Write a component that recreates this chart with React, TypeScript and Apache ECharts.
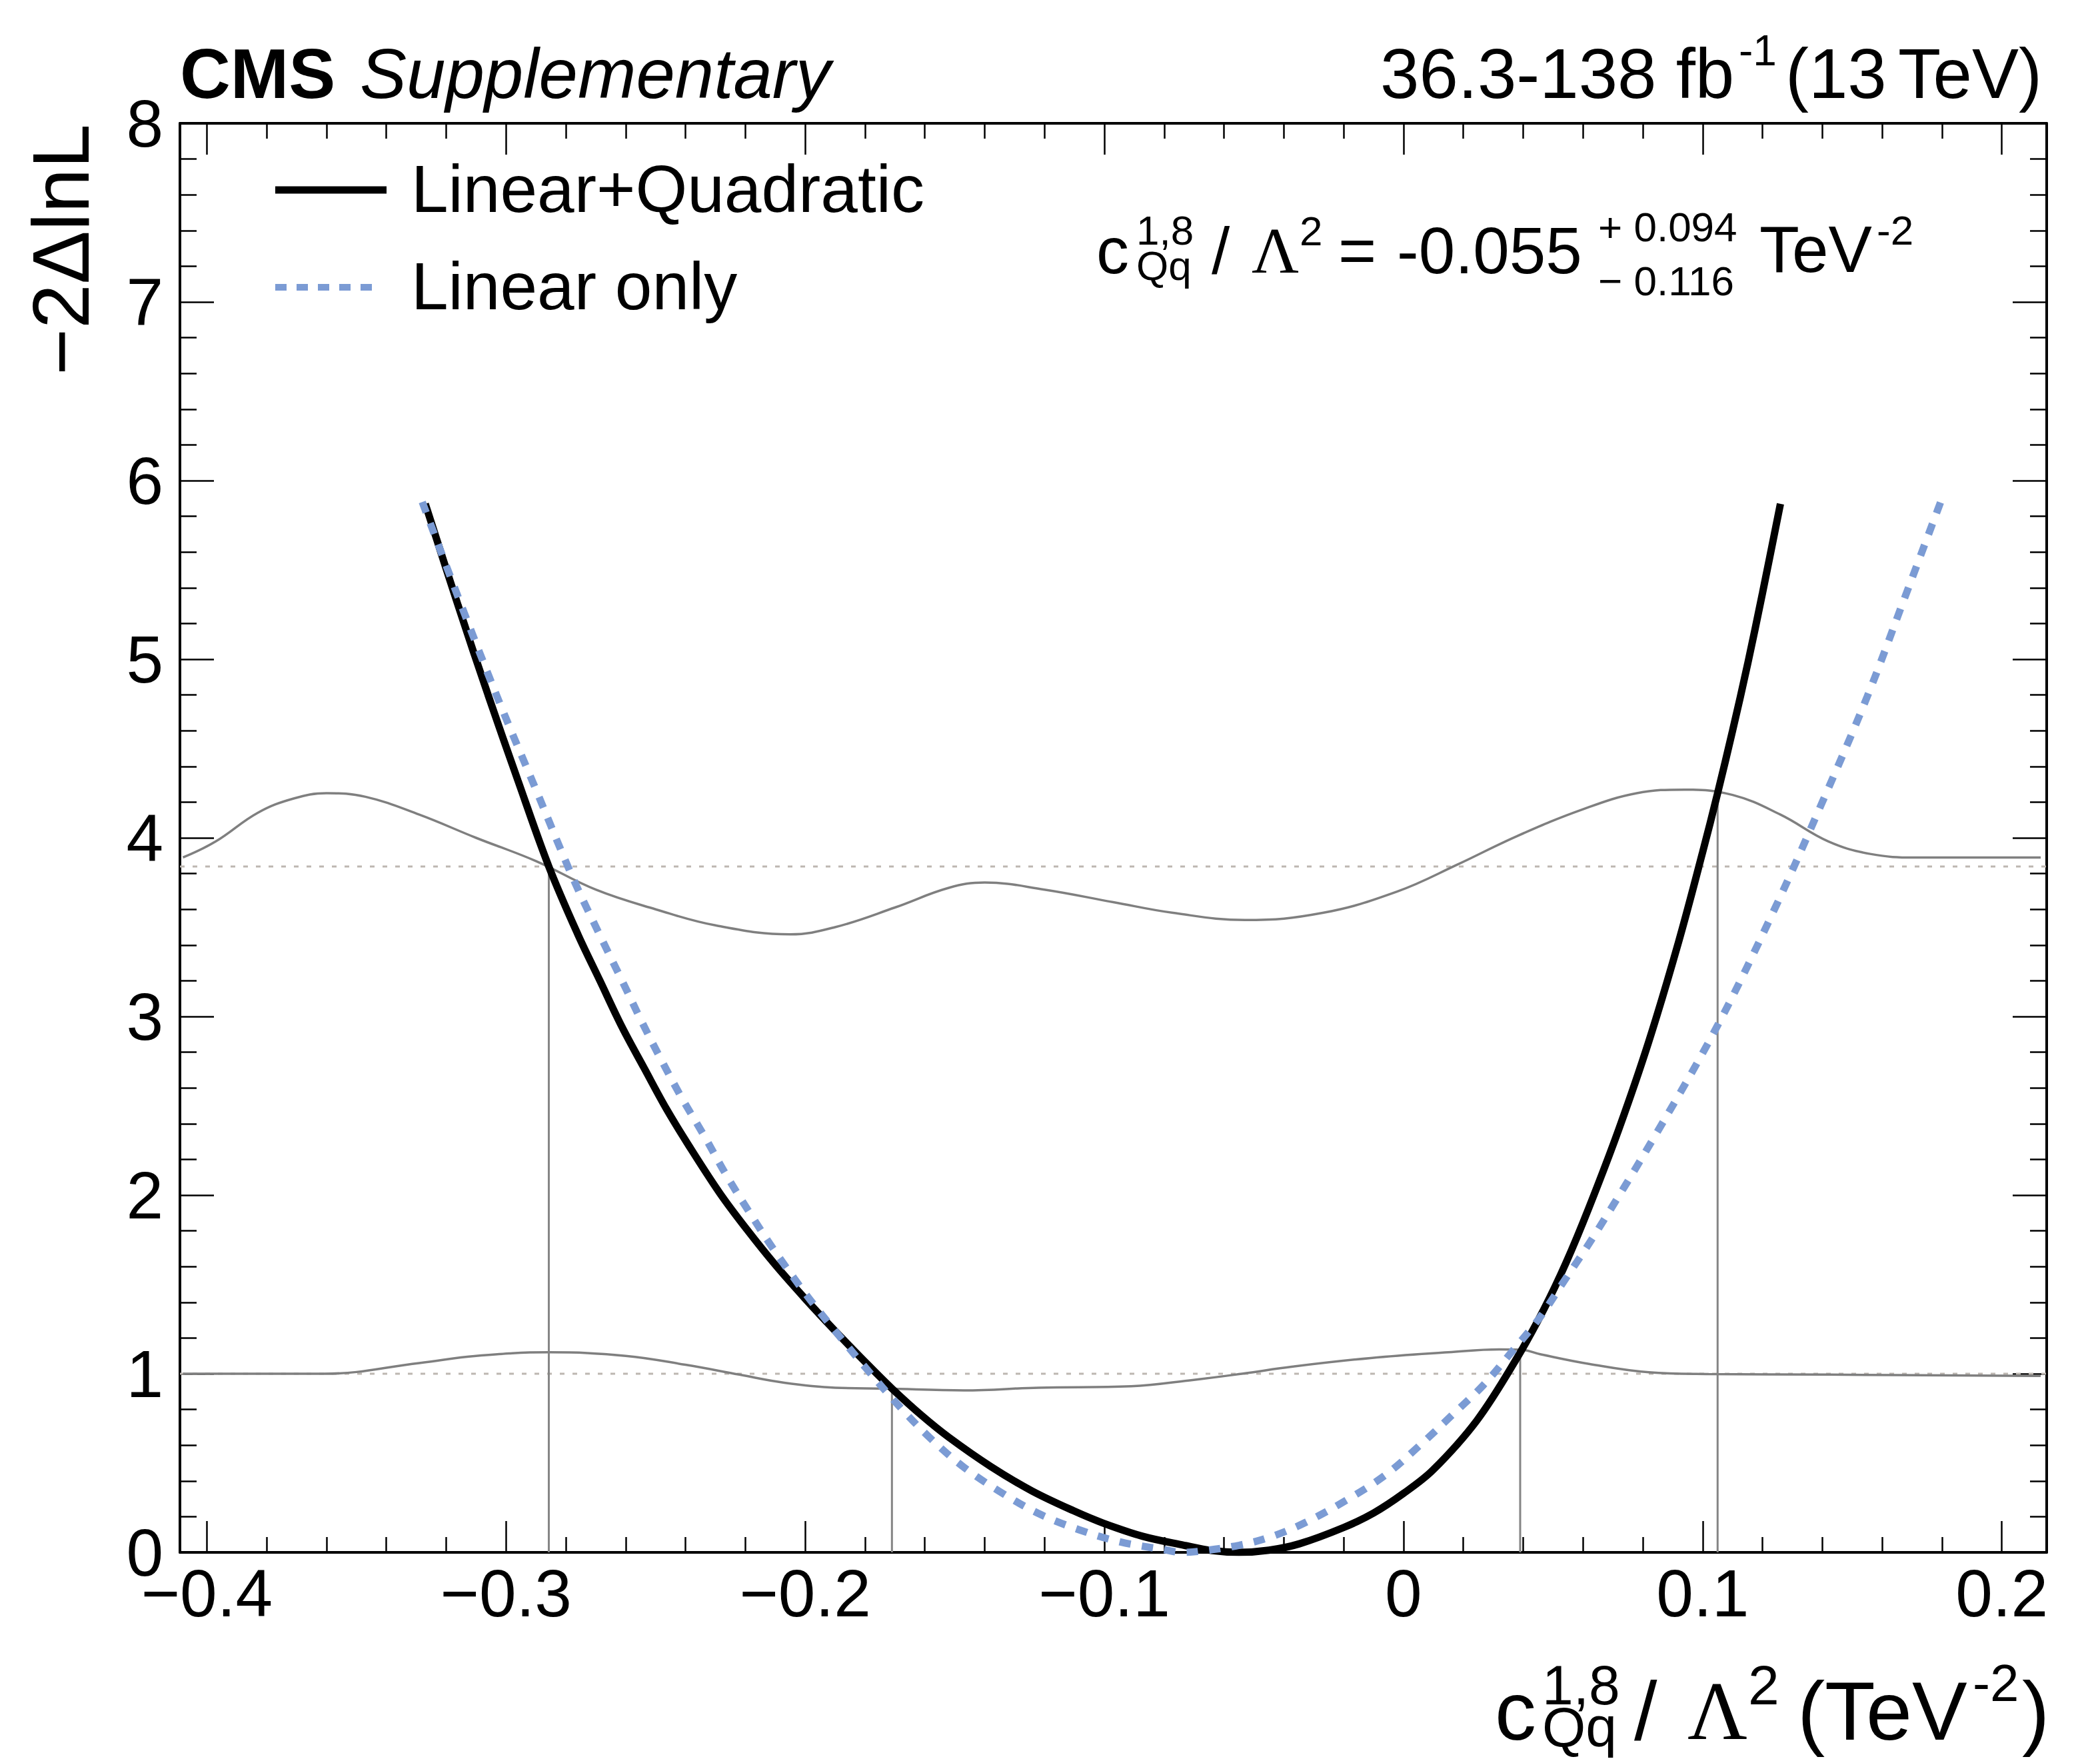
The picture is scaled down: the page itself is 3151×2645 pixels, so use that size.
import React, { useEffect, useRef } from "react";
import * as echarts from "echarts";

const W = 3151;
const H = 2645;

// axis ranges
const xMin = -0.409;
const xMax = 0.215;
const yMin = 0;
const yMax = 8;

// Linear+Quadratic (black solid)
const linQuadX = [-0.327, -0.316, -0.306, -0.296, -0.2857, -0.276, -0.2686, -0.2612, -0.2538, -0.2463, -0.239, -0.2285, -0.2196, -0.21, -0.2, -0.19, -0.1796, -0.171, -0.1611, -0.1519, -0.138, -0.1242, -0.1103, -0.1004, -0.0872, -0.0734, -0.064, -0.055, -0.045, -0.0348, -0.0199, -0.01, 0.0, 0.0098, 0.0246, 0.038, 0.0469, 0.0543, 0.062, 0.072, 0.082, 0.092, 0.1, 0.105, 0.11, 0.115, 0.12, 0.126];
const linQuadY = [5.87, 5.3, 4.8, 4.32, 3.84, 3.46, 3.2, 2.94, 2.71, 2.48, 2.28, 2.01, 1.81, 1.61, 1.42, 1.24, 1.06, 0.917, 0.767, 0.643, 0.481, 0.344, 0.233, 0.164, 0.09, 0.04, 0.01, 0.0, 0.012, 0.048, 0.14, 0.22, 0.33, 0.46, 0.74, 1.09, 1.36, 1.62, 1.93, 2.37, 2.86, 3.42, 3.92, 4.25, 4.6, 4.97, 5.37, 5.87];

// Linear only (blue dashed)
const linOnlyX = [-0.328, -0.314, -0.302, -0.29, -0.2775, -0.2679, -0.2612, -0.2549, -0.2482, -0.2411, -0.2337, -0.2263, -0.2185, -0.2107, -0.2, -0.19, -0.1796, -0.1685, -0.1584, -0.1473, -0.1353, -0.1223, -0.1085, -0.0946, -0.0799, -0.074, -0.0688, -0.0549, -0.0438, -0.0326, -0.0185, -0.0058, 0.0057, 0.0164, 0.0268, 0.0365, 0.0454, 0.0536, 0.064, 0.084, 0.105, 0.124, 0.14, 0.155, 0.167, 0.18];
const linOnlyY = [5.88, 5.26, 4.75, 4.27, 3.77, 3.43, 3.2, 2.98, 2.76, 2.54, 2.33, 2.11, 1.9, 1.7, 1.45, 1.24, 1.03, 0.817, 0.643, 0.481, 0.344, 0.22, 0.127, 0.058, 0.015, 0.0, 0.005, 0.04, 0.09, 0.169, 0.298, 0.436, 0.603, 0.771, 0.938, 1.129, 1.311, 1.517, 1.78, 2.33, 2.95, 3.6, 4.2, 4.79, 5.32, 5.9];

// grey threshold curves
const upperThrX = [-0.408, -0.397, -0.383, -0.371, -0.36, -0.347, -0.329, -0.31, -0.29, -0.27, -0.25, -0.23, -0.205, -0.19, -0.17, -0.152, -0.14, -0.12, -0.097, -0.077, -0.053, -0.027, -0.002, 0.018, 0.038, 0.06, 0.078, 0.094, 0.11, 0.126, 0.142, 0.156, 0.171, 0.191, 0.213];
const upperThrY = [3.89, 3.98, 4.14, 4.22, 4.25, 4.23, 4.13, 4.0, 3.87, 3.71, 3.6, 3.51, 3.46, 3.5, 3.61, 3.72, 3.75, 3.71, 3.64, 3.58, 3.54, 3.58, 3.7, 3.85, 4.01, 4.16, 4.25, 4.27, 4.24, 4.13, 3.98, 3.91, 3.89, 3.89, 3.89];
const lowerThrX = [-0.408, -0.361, -0.329, -0.31, -0.2857, -0.26, -0.24, -0.222, -0.207, -0.19, -0.173, -0.147, -0.122, -0.091, -0.071, -0.054, -0.037, -0.011, 0.015, 0.032, 0.039, 0.046, 0.062, 0.082, 0.102, 0.142, 0.213];
const lowerThrY = [1.0, 1.0, 1.06, 1.1, 1.12, 1.1, 1.05, 0.995, 0.95, 0.922, 0.917, 0.907, 0.922, 0.93, 0.964, 1.0, 1.04, 1.088, 1.12, 1.136, 1.135, 1.108, 1.055, 1.008, 0.998, 0.995, 0.988];

// interval edges (vertical grey lines) and their heights
const intervalEdges = [-0.2857, -0.171, 0.039, 0.105];
const intervalHeights = [3.84, 0.917, 1.135, 4.25];

// reference levels (dotted)
const refLevels = [1.0, 3.84];

const legendLabels = ["Linear+Quadratic", "Linear only"];

const SANS = '"Liberation Sans", Arial, Helvetica, sans-serif';
const SERIF = '"Liberation Serif", "Times New Roman", serif';
const BLUE = "#7b9bd4";
const GREY = "#7f7f7f";

const GRID = { left: 270, top: 185, right: 3071, bottom: 2329 };

const pairs = (xs: number[], ys: number[]) => xs.map((x, i) => [x, ys[i]]);

function T(
  text: string,
  x: number,
  baseline: number,
  size: number,
  opt: { weight?: string; style?: string; family?: string; align?: string } = {}
) {
  return {
    type: "text",
    x,
    y: baseline - 0.3465 * size,
    silent: true,
    z: 100,
    style: {
      text,
      fill: "#000",
      font: `${opt.style || "normal"} ${opt.weight || "normal"} ${size}px ${opt.family || SANS}`,
      align: opt.align || "left",
      textAlign: opt.align || "left",
      verticalAlign: "middle",
      textVerticalAlign: "middle",
    },
  };
}

// two stacked lines (superscript over subscript) in one text element
function T2(text: string, x: number, baseline1: number, baseline2: number, size: number) {
  const L = baseline2 - baseline1;
  return {
    type: "text",
    x,
    y: baseline1 + L / 2 - 0.3465 * size,
    silent: true,
    z: 100,
    style: {
      text,
      fill: "#000",
      font: `normal normal ${size}px ${SANS}`,
      lineHeight: L,
      align: "left",
      textAlign: "left",
      verticalAlign: "middle",
      textVerticalAlign: "middle",
    },
  };
}

function xFmt(v: number) {
  const r = Math.round(v * 10);
  if (Math.abs(v * 10 - r) > 1e-6) return "";
  if (r === 0) return "0";
  return (r < 0 ? "\u2212" : "") + (Math.abs(r) / 10).toString();
}

function makeXAxis(pos: "bottom" | "top") {
  return {
    type: "value",
    min: xMin,
    max: xMax,
    position: pos,
    splitNumber: 5,
    axisLine: { show: true, onZero: false, lineStyle: { color: "#000", width: 4 } },
    axisTick: { show: true, inside: true, length: 47, lineStyle: { color: "#000", width: 2.5 } },
    minorTick: { show: true, splitNumber: 5, length: 23, lineStyle: { color: "#000", width: 2.5 } },
    splitLine: { show: false },
    minorSplitLine: { show: false },
    axisLabel: {
      show: pos === "bottom",
      interval: 0,
      margin: 11,
      fontSize: 100,
      fontFamily: SANS,
      color: "#000",
      formatter: xFmt,
    },
  };
}

function makeYAxis(pos: "left" | "right") {
  return {
    type: "value",
    min: yMin,
    max: yMax,
    interval: 1,
    position: pos,
    axisLine: { show: true, onZero: false, lineStyle: { color: "#000", width: 4 } },
    axisTick: { show: true, inside: true, length: 51, lineStyle: { color: "#000", width: 2.5 } },
    minorTick: { show: true, splitNumber: 5, length: 25, lineStyle: { color: "#000", width: 2.5 } },
    splitLine: { show: false },
    minorSplitLine: { show: false },
    axisLabel: {
      show: pos === "left",
      margin: 25,
      fontSize: 100,
      fontFamily: SANS,
      color: "#000",
      formatter: (v: number) => String(v),
    },
  };
}

function buildOption() {
  const base = { type: "line", showSymbol: false, symbol: "none", silent: true, animation: false, xAxisIndex: 0, yAxisIndex: 0 };
  const series: any[] = [];
  series.push({ ...base, name: "upper", data: pairs(upperThrX, upperThrY), smooth: 0.4, lineStyle: { color: GREY, width: 3.5 }, z: 2 });
  series.push({ ...base, name: "lower", data: pairs(lowerThrX, lowerThrY), smooth: 0.4, lineStyle: { color: GREY, width: 3.5 }, z: 2 });
  intervalEdges.forEach((x, i) => {
    series.push({ ...base, name: "edge" + i, data: [[x, 0], [x, intervalHeights[i]]], lineStyle: { color: "#858585", width: 3 }, z: 2 });
  });
  refLevels.forEach((y, i) => {
    series.push({ ...base, name: "ref" + i, data: [[xMin, y], [xMax, y]], lineStyle: { color: "#bdb7b1", width: 3, type: [7, 12] }, z: 1 });
  });
  series.push({ ...base, name: legendLabels[0], data: pairs(linQuadX, linQuadY), smooth: 0.35, lineStyle: { color: "#000", width: 11, cap: "butt" }, z: 3 });
  series.push({ ...base, name: legendLabels[1], data: pairs(linOnlyX, linOnlyY), smooth: 0.35, lineStyle: { color: BLUE, width: 11, type: [17, 17], cap: "butt" }, z: 4 });

  const graphic: any[] = [
    // header
    T("CMS", 270, 147, 105, { weight: "bold" }),
    T("Supplementary", 540, 147, 105, { style: "italic" }),
    T("36.3-138 fb", 2071, 147, 105),
    T("-1", 2609, 98, 64),
    T("(13", 2679, 147, 105),
    T("TeV)", 3064, 147, 105, { align: "right" }),
    // y title (rotated)
    {
      type: "text",
      x: 133 - 0.3465 * 120,
      y: 186,
      rotation: Math.PI / 2,
      silent: true,
      z: 100,
      style: {
        text: "\u22122\u0394lnL",
        fill: "#000",
        font: `normal normal 120px ${SANS}`,
        align: "right",
        textAlign: "right",
        verticalAlign: "middle",
        textVerticalAlign: "middle",
      },
    },
    // x title
    T("c", 2243, 2610, 124),
    T2("1,8\nQq", 2314, 2557, 2620, 84),
    T("/", 2452, 2610, 124),
    T("\u039B", 2532, 2610, 124, { family: SERIF }),
    T("2", 2623, 2557, 84),
    T("(", 2697, 2610, 124),
    T("TeV", 2738, 2610, 124),
    T("-2", 2960, 2552, 78),
    T(")", 3034, 2610, 124),
    // annotation
    T("c", 1645, 410, 98),
    T2("1,8\nQq", 1705, 367, 420, 62),
    T("/", 1818, 410, 98),
    T("\u039B", 1878, 410, 98, { family: SERIF }),
    T("2", 1950, 368, 62),
    T("=", 2008, 410, 98),
    T("-0.055", 2096, 410, 98),
    T2("+ 0.094\n\u2212 0.116", 2398, 362, 443, 62),
    T("TeV", 2640, 408, 98),
    T("-2", 2816, 367, 62),
    // legend
    { type: "line", silent: true, z: 100, shape: { x1: 413, y1: 285, x2: 580, y2: 285 }, style: { stroke: "#000", lineWidth: 11 } },
    { type: "line", silent: true, z: 100, shape: { x1: 413, y1: 431, x2: 564, y2: 431 }, style: { stroke: BLUE, lineWidth: 10, lineDash: [17, 15] } },
    T(legendLabels[0], 617, 318, 100),
    T(legendLabels[1], 617, 464, 100),
  ];

  return {
    animation: false,
    backgroundColor: "#fff",
    grid: {
      left: GRID.left,
      top: GRID.top,
      width: GRID.right - GRID.left,
      height: GRID.bottom - GRID.top,
      containLabel: false,
    },
    xAxis: [makeXAxis("bottom"), makeXAxis("top")],
    yAxis: [makeYAxis("left"), makeYAxis("right")],
    series,
    graphic,
  };
}

export default function App() {
  const ref = useRef<HTMLDivElement>(null);
  useEffect(() => {
    document.body.style.margin = "0";
    const chart = echarts.init(ref.current as HTMLDivElement, null, { renderer: "svg", width: W, height: H });
    chart.setOption(buildOption() as any);
    return () => chart.dispose();
  }, []);
  return (
    <div
      ref={ref}
      style={{ position: "absolute", left: 0, top: 0, width: W, height: H, background: "#fff" }}
    />
  );
}
